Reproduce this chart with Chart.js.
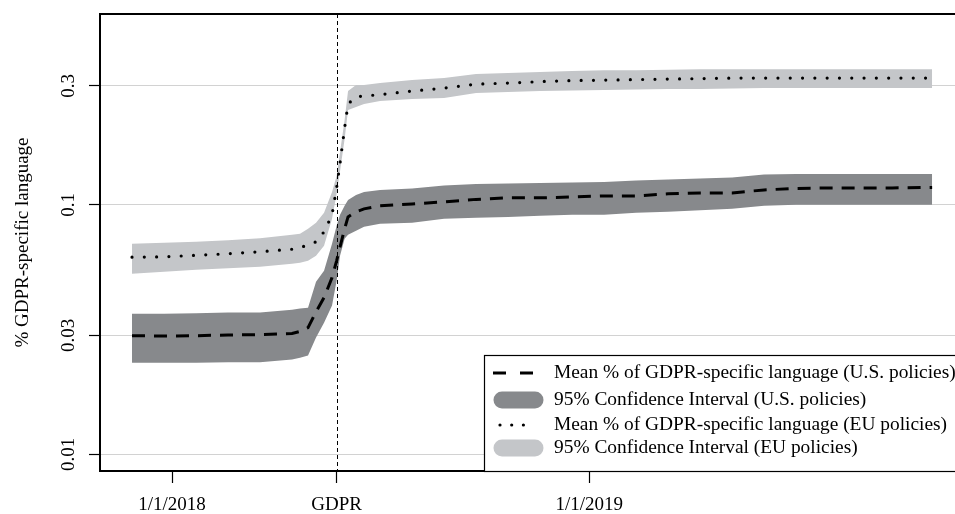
<!DOCTYPE html>
<html><head><meta charset="utf-8">
<script src="https://cdn.jsdelivr.net/npm/chart.js@4.4.1/dist/chart.umd.min.js"></script>
<style>html,body{margin:0;padding:0;background:#fff;overflow:hidden}canvas{display:block}</style>
</head><body>
<canvas id="c" width="955" height="514"></canvas>
<script>
// ---- data ----
const dates = ['2017-11-27','2017-12-25','2018-01-22','2018-02-19','2018-03-19','2018-04-16','2018-04-23','2018-04-30','2018-05-07','2018-05-14','2018-05-21','2018-05-25','2018-05-28','2018-06-01','2018-06-04','2018-06-11','2018-06-18','2018-07-02','2018-07-30','2018-08-27','2018-09-24','2018-10-22','2018-11-19','2018-12-17','2019-01-14','2019-02-11','2019-03-11','2019-04-08','2019-05-06','2019-06-03','2019-07-01','2019-07-29','2019-08-26','2019-09-23','2019-10-28'];
const usMean  = [0.0299,0.0298,0.0299,0.0301,0.0302,0.0305,0.0311,0.0322,0.0373,0.0425,0.0511,0.0597,0.0679,0.0802,0.0895,0.0938,0.0964,0.0991,0.1009,0.1028,0.1052,0.1067,0.1067,0.1076,0.1086,0.1086,0.1107,0.1117,0.1117,0.1148,0.1164,0.1169,0.1169,0.1169,0.1175];
const usUpper = [0.0366,0.0366,0.0368,0.0370,0.0370,0.0380,0.0384,0.0387,0.0492,0.0545,0.0698,0.0824,0.0912,0.0991,0.1047,0.1096,0.1127,0.1148,0.1164,0.1197,0.1213,0.1219,0.1225,0.1230,0.1236,0.1253,0.1265,0.1276,0.1288,0.1324,0.1330,0.1330,0.1330,0.1330,0.1330];
const usLower = [0.0233,0.0233,0.0233,0.0234,0.0234,0.0240,0.0244,0.0249,0.0294,0.0337,0.0395,0.0497,0.0625,0.0731,0.0759,0.0787,0.0817,0.0840,0.0847,0.0879,0.0887,0.0895,0.0904,0.0912,0.0912,0.0929,0.0938,0.0951,0.0964,0.0991,0.1000,0.1000,0.1000,0.1000,0.1000];
const euMean  = [0.0617,0.0619,0.0628,0.0637,0.0649,0.0664,0.0673,0.0692,0.0711,0.0780,0.0912,0.1169,0.1472,0.2032,0.2535,0.2716,0.2729,0.2767,0.2858,0.2938,0.3048,0.3076,0.3119,0.3148,0.3162,0.3177,0.3192,0.3206,0.3221,0.3221,0.3221,0.3221,0.3221,0.3221,0.3221];
const euUpper = [0.0698,0.0705,0.0711,0.0721,0.0735,0.0759,0.0766,0.0802,0.0847,0.0929,0.1127,0.1306,0.1629,0.2188,0.2858,0.3020,0.3020,0.3076,0.3162,0.3221,0.3342,0.3373,0.3404,0.3436,0.3467,0.3467,0.3483,0.3499,0.3499,0.3499,0.3499,0.3499,0.3499,0.3499,0.3499];
const euLower = [0.0530,0.0540,0.0550,0.0557,0.0565,0.0581,0.0586,0.0597,0.0625,0.0686,0.0879,0.1107,0.1368,0.1837,0.2399,0.2466,0.2535,0.2606,0.2655,0.2679,0.2805,0.2831,0.2858,0.2871,0.2884,0.2897,0.2911,0.2911,0.2924,0.2938,0.2938,0.2938,0.2938,0.2938,0.2938];

const xTickDates  = ['2018-01-01','2018-05-25','2019-01-01'];
const xTickLabels = ['1/1/2018','GDPR','1/1/2019'];
const yTickValues = [0.01,0.03,0.1,0.3];
const yTickLabels = ['0.01','0.03','0.1','0.3'];
const gdprDate = '2018-05-25';
const yTitle = '% GDPR-specific language';
const legendLabels = [
  'Mean % of GDPR-specific language (U.S. policies)',
  '95% Confidence Interval (U.S. policies)',
  'Mean % of GDPR-specific language (EU policies)',
  '95% Confidence Interval (EU policies)'
];

// ---- style ----
const FONT = "'Liberation Serif','Times New Roman',serif";
const US_BAND = '#87898c';
const EU_BAND = '#c4c6c9';
const toPts = vals => vals.map((v, i) => ({x: Date.parse(dates[i]), y: v}));

const framePlugin = {
  id: 'frame',
  afterDatasetsDraw(chart) {
    const {ctx, chartArea: a, scales} = chart;
    const gx = scales.x.getPixelForValue(Date.parse(gdprDate));
    ctx.save();
    ctx.strokeStyle = '#000'; ctx.lineWidth = 1; ctx.setLineDash([4, 3]);
    ctx.beginPath(); ctx.moveTo(Math.round(gx) + 0.5, a.top); ctx.lineTo(Math.round(gx) + 0.5, a.bottom); ctx.stroke();
    ctx.restore();
  },
  afterDraw(chart) {
    const {ctx, chartArea: a, scales} = chart;
    ctx.save();
    // top frame line
    ctx.strokeStyle = '#000'; ctx.lineWidth = 2;
    ctx.beginPath(); ctx.moveTo(a.left - 1, a.top); ctx.lineTo(a.right + 2, a.top); ctx.stroke();
    // y tick labels (rotated)
    ctx.fillStyle = '#000'; ctx.font = '19px ' + FONT;
    ctx.textAlign = 'center'; ctx.textBaseline = 'alphabetic';
    yTickValues.forEach((v, i) => {
      const y = scales.y.getPixelForValue(v);
      ctx.save(); ctx.translate(74, y); ctx.rotate(-Math.PI / 2); ctx.fillText(yTickLabels[i], 0, 0); ctx.restore();
    });
    // y title
    ctx.save(); ctx.translate(28, (a.top + a.bottom) / 2); ctx.rotate(-Math.PI / 2); ctx.fillText(yTitle, 0, 0); ctx.restore();
    // legend
    const lx = 484, ly = 355;
    ctx.fillStyle = '#fff'; ctx.fillRect(lx, ly, chart.width - lx + 10, a.bottom - ly);
    ctx.strokeStyle = '#000'; ctx.lineWidth = 1.2;
    ctx.strokeRect(lx + 0.5, ly + 0.5, chart.width - lx + 10, a.bottom - ly);
    const rows = [373, 400, 425, 448];
    // row 0 dashed
    ctx.setLineDash([13, 14]); ctx.lineWidth = 3; ctx.lineCap = 'butt';
    ctx.beginPath(); ctx.moveTo(493, rows[0]); ctx.lineTo(534, rows[0]); ctx.stroke();
    // row 1 dark bar
    ctx.setLineDash([]); ctx.lineCap = 'round'; ctx.lineWidth = 17; ctx.strokeStyle = US_BAND;
    ctx.beginPath(); ctx.moveTo(502, rows[1]); ctx.lineTo(535, rows[1]); ctx.stroke();
    // row 2 dots
    ctx.strokeStyle = '#000'; ctx.lineWidth = 3.2; ctx.setLineDash([0, 11.7]);
    ctx.beginPath(); ctx.moveTo(500, rows[2]); ctx.lineTo(525, rows[2]); ctx.stroke();
    // row 3 light bar
    ctx.setLineDash([]); ctx.lineWidth = 17; ctx.strokeStyle = EU_BAND;
    ctx.beginPath(); ctx.moveTo(502, rows[3]); ctx.lineTo(535, rows[3]); ctx.stroke();
    // legend texts
    ctx.fillStyle = '#000'; ctx.font = '19.4px ' + FONT; ctx.textAlign = 'left'; ctx.textBaseline = 'middle';
    legendLabels.forEach((t, i) => ctx.fillText(t, 554, rows[i]));
    ctx.restore();
  }
};

new Chart(document.getElementById('c').getContext('2d'), {
  type: 'line',
  data: {
    datasets: [
      {label: legendLabels[0], data: toPts(usMean), borderColor: '#000', borderWidth: 3, borderDash: [13, 9], pointRadius: 0, fill: false, tension: 0},
      {label: legendLabels[2], data: toPts(euMean), borderColor: '#000', borderWidth: 3.2, borderDash: [0, 12.3], borderCapStyle: 'round', pointRadius: 0, fill: false, tension: 0},
      {label: legendLabels[1], data: toPts(usUpper), borderWidth: 0, borderColor: 'rgba(0,0,0,0)', backgroundColor: US_BAND, fill: '+1', pointRadius: 0},
      {label: 'us-lower', data: toPts(usLower), borderWidth: 0, borderColor: 'rgba(0,0,0,0)', pointRadius: 0, fill: false},
      {label: legendLabels[3], data: toPts(euUpper), borderWidth: 0, borderColor: 'rgba(0,0,0,0)', backgroundColor: EU_BAND, fill: '+1', pointRadius: 0},
      {label: 'eu-lower', data: toPts(euLower), borderWidth: 0, borderColor: 'rgba(0,0,0,0)', pointRadius: 0, fill: false}
    ]
  },
  options: {
    responsive: false, animation: false, devicePixelRatio: 1,
    layout: {padding: {top: 14, left: 0, right: 0, bottom: 0}},
    plugins: {legend: {display: false}, tooltip: {enabled: false}},
    scales: {
      x: {
        type: 'linear', position: 'bottom',
        min: Date.parse('2017-10-30'), max: Date.parse('2019-11-17'),
        afterBuildTicks: s => { s.ticks = xTickDates.map(d => ({value: Date.parse(d)})); },
        afterFit: s => { s.height = 43; },
        ticks: {callback: (v, i) => xTickLabels[i], font: {family: FONT, size: 19}, color: '#000', padding: 11, maxRotation: 0, minRotation: 0, autoSkip: false},
        grid: {drawOnChartArea: false, drawTicks: true, tickLength: 12, tickColor: '#000', color: '#000', tickWidth: 1.2},
        border: {display: true, color: '#000', width: 2}
      },
      y: {
        type: 'logarithmic', min: 0.00858, max: 0.582,
        afterBuildTicks: s => { s.ticks = yTickValues.map(v => ({value: v})); },
        afterFit: s => { s.width = 100; },
        ticks: {display: false},
        grid: {color: '#d2d2d2', lineWidth: 1, drawTicks: true, tickLength: 11, tickColor: '#000', tickWidth: 1.2},
        border: {display: true, color: '#000', width: 2}
      }
    }
  },
  plugins: [framePlugin]
});
</script>
</body></html>
